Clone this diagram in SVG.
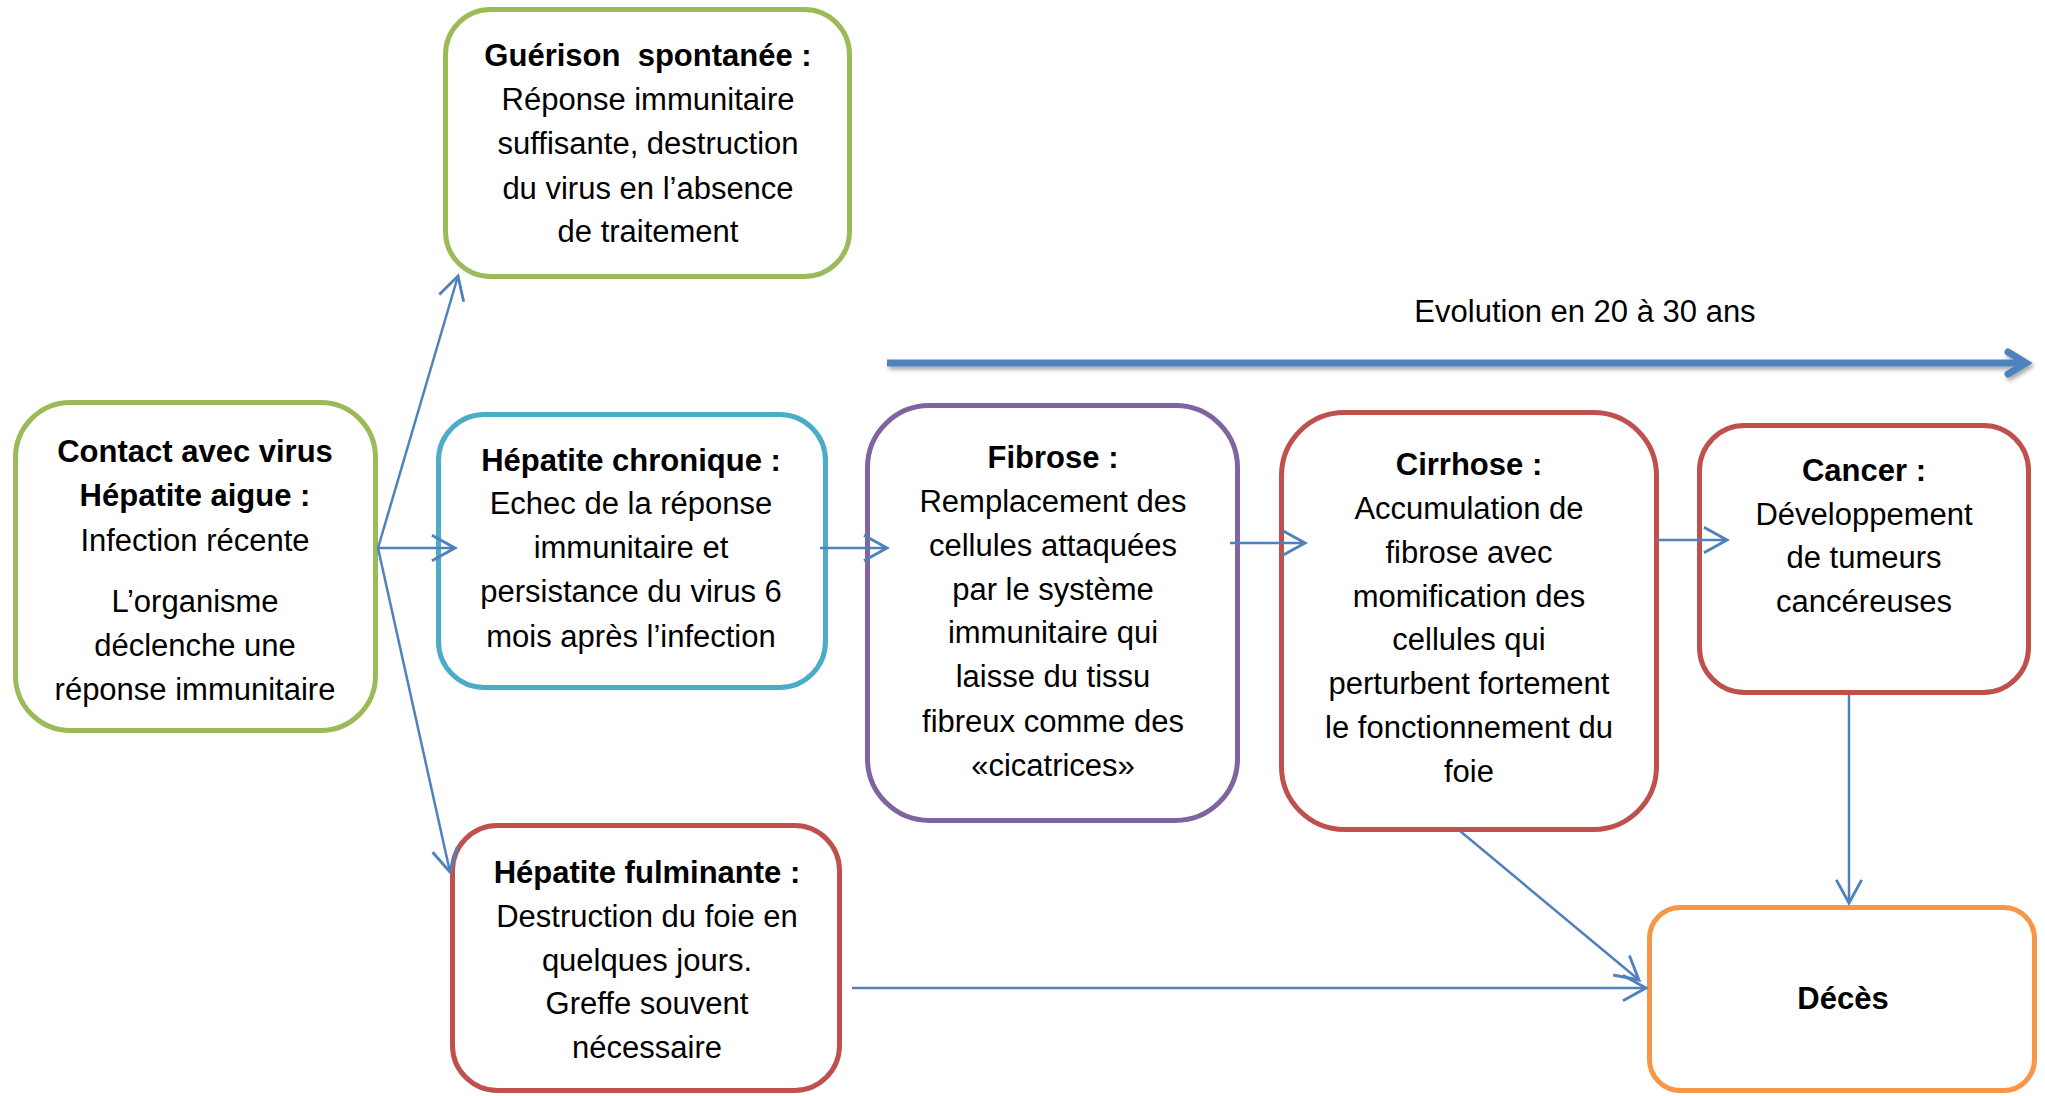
<svg xmlns="http://www.w3.org/2000/svg" width="2045" height="1096" viewBox="0 0 2045 1096">
<style>
.box{fill:#fff;stroke-width:5}
.g{stroke:#9BBB59}.b{stroke:#4BACC6}.p{stroke:#8064A2}.r{stroke:#C0504D}.o{stroke:#F79646}
text{font-family:"Liberation Sans",Arial,Helvetica,sans-serif;font-size:31px;fill:#000;text-anchor:middle}
.t{font-weight:bold}
.c{fill:none;stroke:#4F81BD;stroke-width:2.5}
</style>
<defs>
<marker id="ah" markerUnits="userSpaceOnUse" markerWidth="30" markerHeight="30" viewBox="-22 -13 24 26" refX="0" refY="0" orient="auto">
<path d="M-20,-11 L0,0 L-20,11" fill="none" stroke="#4F81BD" stroke-width="2.5"/>
</marker>
<filter id="sh" x="-5%" y="-200%" width="110%" height="500%">
<feDropShadow dx="2" dy="3" stdDeviation="2" flood-color="#000" flood-opacity="0.35"/>
</filter>
</defs>

<g id="contact">
<rect class="box g" x="15.5" y="402.5" width="360" height="328" rx="55"/>
<text x="195" y="462" class="t">Contact avec virus</text>
<text x="195" y="506" class="t">Hépatite aigue :</text>
<text x="195" y="551">Infection récente</text>
<text x="195" y="612">L’organisme</text>
<text x="195" y="656">déclenche une</text>
<text x="195" y="700">réponse immunitaire</text>
</g>

<g id="guerison">
<rect class="box g" x="445.5" y="9.5" width="404" height="267" rx="45"/>
<text x="648" y="66" class="t" style="white-space:pre">Guérison  spontanée :</text>
<text x="648" y="110">Réponse immunitaire</text>
<text x="648" y="154">suffisante, destruction</text>
<text x="648" y="199">du virus en l’absence</text>
<text x="648" y="242">de traitement</text>
</g>

<g id="chronique">
<rect class="box b" x="438.5" y="414.5" width="387" height="273" rx="46"/>
<text x="631" y="471" class="t">Hépatite chronique :</text>
<text x="631" y="514">Echec de la réponse</text>
<text x="631" y="558">immunitaire et</text>
<text x="631" y="602">persistance du virus 6</text>
<text x="631" y="647">mois après l’infection</text>
</g>

<g id="fibrose">
<rect class="box p" x="867.5" y="405.5" width="370" height="415" rx="62"/>
<text x="1053" y="468" class="t">Fibrose :</text>
<text x="1053" y="512">Remplacement des</text>
<text x="1053" y="556">cellules attaquées</text>
<text x="1053" y="600">par le système</text>
<text x="1053" y="643">immunitaire qui</text>
<text x="1053" y="687">laisse du tissu</text>
<text x="1053" y="732">fibreux comme des</text>
<text x="1053" y="776">«cicatrices»</text>
</g>

<g id="cirrhose">
<rect class="box r" x="1281.5" y="412.5" width="375" height="417" rx="63"/>
<text x="1469" y="475" class="t">Cirrhose :</text>
<text x="1469" y="519">Accumulation de</text>
<text x="1469" y="563">fibrose avec</text>
<text x="1469" y="607">momification des</text>
<text x="1469" y="650">cellules qui</text>
<text x="1469" y="694">perturbent fortement</text>
<text x="1469" y="738">le fonctionnement du</text>
<text x="1469" y="782">foie</text>
</g>

<g id="cancer">
<rect class="box r" x="1699.5" y="425.5" width="329" height="267" rx="45"/>
<text x="1864" y="481" class="t">Cancer :</text>
<text x="1864" y="525">Développement</text>
<text x="1864" y="568">de tumeurs</text>
<text x="1864" y="612">cancéreuses</text>
</g>

<g id="fulminante">
<rect class="box r" x="452.5" y="825.5" width="387" height="265" rx="45"/>
<text x="647" y="883" class="t">Hépatite fulminante :</text>
<text x="647" y="927">Destruction du foie en</text>
<text x="647" y="971">quelques jours.</text>
<text x="647" y="1014">Greffe souvent</text>
<text x="647" y="1058">nécessaire</text>
</g>

<g id="deces">
<rect class="box o" x="1649.5" y="907.5" width="385" height="183" rx="31"/>
<text x="1843" y="1009" class="t">Décès</text>
</g>

<g id="connectors">
<line class="c" x1="378" y1="548" x2="458" y2="276" marker-end="url(#ah)"/>
<line class="c" x1="378" y1="548" x2="455" y2="548" marker-end="url(#ah)"/>
<line class="c" x1="378" y1="548" x2="450" y2="872" marker-end="url(#ah)"/>
<line class="c" x1="820" y1="548" x2="887" y2="548" marker-end="url(#ah)"/>
<line class="c" x1="1230" y1="543" x2="1305" y2="543" marker-end="url(#ah)"/>
<line class="c" x1="1658" y1="540" x2="1727" y2="540" marker-end="url(#ah)"/>
<line class="c" x1="1849" y1="695" x2="1849" y2="903" marker-end="url(#ah)"/>
<line class="c" x1="1460" y1="831" x2="1639" y2="980" marker-end="url(#ah)"/>
<line class="c" x1="852" y1="988" x2="1646" y2="988" marker-end="url(#ah)"/>
<g id="timeline" filter="url(#sh)" fill="none" stroke="#4F81BD" stroke-width="7">
<line x1="887" y1="363" x2="2024" y2="363"/>
<path d="M2008,352 L2026,363 L2008,374" stroke-linejoin="miter" stroke-linecap="round"/>
</g>
<text x="1585" y="322">Evolution en 20 à 30 ans</text>
</g>
</svg>
